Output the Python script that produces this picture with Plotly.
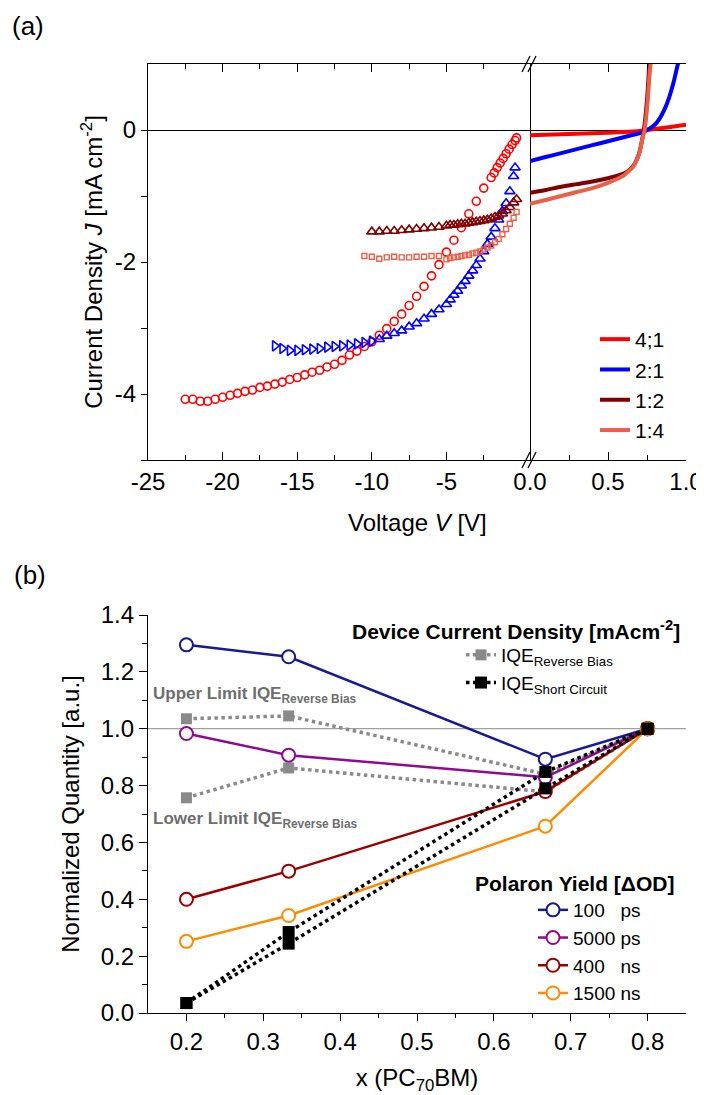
import plotly.graph_objects as go

# ---------------- Panel (a) data ----------------
# reverse-bias markers (left segment)
v_41 = [-22.5, -22, -21.5, -21, -20.5, -20, -19.5, -19, -18.5, -18, -17.5, -17, -16.5, -16, -15.5, -15,
        -14.5, -14, -13.5, -13, -12.5, -12, -11.5, -11, -10.5, -10, -9.5, -9, -8.5, -8, -7.5, -7, -6.5,
        -6, -5.5, -5, -4.5, -4, -3.5, -3, -2.5, -2, -1.8, -1.6, -1.4, -1.2, -1.0, -0.8, -0.6, -0.4, -0.3]
j_41 = [-4.08, -4.08, -4.11, -4.11, -4.08, -4.05, -4.02, -3.99, -3.96, -3.94, -3.90, -3.88, -3.85, -3.82,
        -3.78, -3.75, -3.71, -3.67, -3.64, -3.59, -3.55, -3.49, -3.41, -3.35, -3.28, -3.21, -3.11, -3.01,
        -2.90, -2.79, -2.66, -2.52, -2.37, -2.21, -2.04, -1.85, -1.67, -1.48, -1.27, -1.08, -0.88, -0.72,
        -0.65, -0.57, -0.50, -0.43, -0.36, -0.29, -0.22, -0.16, -0.12]

v_21 = [-16.5, -16, -15.5, -15, -14.5, -14, -13.5, -13, -12.5, -12, -11.5, -11, -10.5, -10, -9.5, -9,
        -8.5, -8, -7.5, -7, -6.5, -6, -5.5, -5, -4.75, -4.5, -4.25, -4, -3.75, -3.5, -3.25, -3, -2.75,
        -2.5, -2.25, -2, -1.75, -1.5, -1.25, -1, -0.75, -0.5, -0.4]
j_21 = [-3.27, -3.31, -3.34, -3.34, -3.33, -3.32, -3.31, -3.29, -3.28, -3.27, -3.26, -3.24, -3.22, -3.20,
        -3.17, -3.12, -3.08, -3.04, -2.98, -2.93, -2.86, -2.79, -2.72, -2.64, -2.57, -2.50, -2.44, -2.36,
        -2.29, -2.21, -2.13, -2.05, -1.95, -1.84, -1.73, -1.62, -1.49, -1.36, -1.23, -1.11, -0.93, -0.70,
        -0.57]

v_12 = [-10, -9.5, -9, -8.5, -8, -7.5, -7, -6.5, -6, -5.5, -5, -4.75, -4.5, -4.25, -4, -3.75, -3.5,
        -3.25, -3, -2.75, -2.5, -2.25, -2, -1.75, -1.5, -1.25, -1, -0.75, -0.5, -0.3]
j_12 = [-1.54, -1.54, -1.53, -1.53, -1.52, -1.51, -1.50, -1.49, -1.48, -1.47, -1.45, -1.44, -1.44, -1.43,
        -1.42, -1.42, -1.41, -1.40, -1.39, -1.38, -1.37, -1.36, -1.34, -1.32, -1.30, -1.27, -1.22, -1.17,
        -1.10, -1.05]

v_14 = [-10.5, -10, -9.5, -9, -8.5, -8, -7.5, -7, -6.5, -6, -5.5, -5, -4.75, -4.5, -4.25, -4, -3.75,
        -3.5, -3.25, -3, -2.75, -2.5, -2.25, -2, -1.75, -1.5, -1.25, -1, -0.75, -0.5, -0.3]
j_14 = [-1.91, -1.92, -1.95, -1.93, -1.92, -1.93, -1.93, -1.92, -1.92, -1.91, -1.91, -1.96, -1.94, -1.93,
        -1.92, -1.91, -1.90, -1.89, -1.87, -1.86, -1.84, -1.81, -1.78, -1.75, -1.70, -1.65, -1.58, -1.50,
        -1.42, -1.33, -1.24]

# forward-bias curves (right segment)
fv_41 = [0, 0.2, 0.4, 0.6, 0.7, 0.75, 0.8, 0.9, 1.0]
fj_41 = [-0.08, -0.065, -0.05, -0.03, -0.015, 0.0, 0.015, 0.045, 0.08]
fv_21 = [0, 0.1, 0.2, 0.3, 0.4, 0.5, 0.6, 0.65, 0.7, 0.75, 0.8, 0.83, 0.86, 0.89, 0.92, 0.94, 0.96]
fj_21 = [-0.47, -0.41, -0.35, -0.29, -0.23, -0.17, -0.11, -0.08, -0.05, 0.0, 0.08, 0.17, 0.30, 0.48,
         0.72, 0.92, 1.12]
fv_12 = [0, 0.1, 0.2, 0.3, 0.4, 0.5, 0.55, 0.6, 0.63, 0.66, 0.68, 0.70, 0.71, 0.72, 0.73, 0.74, 0.75,
         0.76, 0.765]
fj_12 = [-0.95, -0.91, -0.86, -0.82, -0.78, -0.73, -0.70, -0.66, -0.62, -0.55, -0.47, -0.35, -0.25,
         -0.13, 0.0, 0.2, 0.45, 0.8, 1.05]
fv_14 = [0, 0.1, 0.2, 0.3, 0.4, 0.5, 0.55, 0.6, 0.63, 0.66, 0.68, 0.70, 0.71, 0.72, 0.735, 0.745,
         0.755, 0.765, 0.775]
fj_14 = [-1.12, -1.06, -1.00, -0.94, -0.88, -0.80, -0.75, -0.69, -0.63, -0.56, -0.48, -0.36, -0.26,
         -0.14, 0.0, 0.2, 0.45, 0.8, 1.05]

ratio_names = ["4;1", "2:1", "1:2", "1:4"]

# ---------------- Panel (b) data ----------------
x_frac = [0.2, 0.333, 0.667, 0.8]
py_100ps = [1.295, 1.253, 0.893, 1.0]
py_5000ps = [0.983, 0.907, 0.829, 1.0]
py_400ns = [0.40, 0.499, 0.779, 1.0]
py_1500ns = [0.252, 0.343, 0.657, 1.0]
iqe_rb_upper = [1.035, 1.045, 0.84, 1.0]
iqe_rb_lower = [0.757, 0.862, 0.778, 1.0]
iqe_sc_a = [0.035, 0.285, 0.848, 1.0]
iqe_sc_b = [0.035, 0.244, 0.79, 1.0]
polaron_names = ["100\u00a0\u00a0\u00a0ps", "5000 ps", "400\u00a0\u00a0\u00a0ns", "1500 ns"]

x_ticks_a_left = [-25, -20, -15, -10, -5]
x_ticks_a_right = [0, 0.5, 1.0]
y_ticks_a = [-4, -2, 0]
x_ticks_b = [0.2, 0.3, 0.4, 0.5, 0.6, 0.7, 0.8]
y_ticks_b = [0.0, 0.2, 0.4, 0.6, 0.8, 1.0, 1.2, 1.4]

RED = "#FF0000"
BLUE = "#0000FF"
DRED = "#7F0000"
SALMON = "#E8604A"
NAVY = "#1A1A8F"
PURPLE = "#8E0A8E"
MAROON = "#990000"
ORANGE = "#FF8C00"
GRAY = "#8A8A8A"

# the page body has an 8 px margin: the figure is sized to fit the window
OFF = 8
W, H = 704 - OFF, 1095 - OFF


def fx(p):
    return (p - OFF) / W


def fy(p):
    return 1 - (p - OFF) / H


def lab(v):
    # plain hyphen-minus labels as in the original figure
    return ("%g" % v) if v >= 0 else "-%g" % (-v)


FONT = "Liberation Sans, Arial, sans-serif"

fig = go.Figure()

# ----- panel (a) left segment markers -----
fig.add_trace(go.Scatter(x=v_41, y=j_41, xaxis="x", yaxis="y", mode="markers", showlegend=False,
                         marker=dict(symbol="circle-open", size=8, color=RED, line=dict(width=1.6))))
blue_symbols = ["triangle-right-open" if v < -9.7 else "triangle-up-open" for v in v_21]
fig.add_trace(go.Scatter(x=v_21, y=j_21, xaxis="x", yaxis="y", mode="markers", showlegend=False,
                         marker=dict(symbol=blue_symbols, size=9, color=BLUE, line=dict(width=1.6))))
fig.add_trace(go.Scatter(x=v_12, y=j_12, xaxis="x", yaxis="y", mode="markers", showlegend=False,
                         marker=dict(symbol="triangle-up-open", size=9, color=DRED, line=dict(width=1.6))))
fig.add_trace(go.Scatter(x=v_14, y=j_14, xaxis="x", yaxis="y", mode="markers", showlegend=False,
                         marker=dict(symbol="square-open", size=5, color=SALMON, line=dict(width=1.4))))

# ----- panel (a) right segment lines -----
for xs, ys, c, n in [(fv_41, fj_41, RED, ratio_names[0]), (fv_21, fj_21, BLUE, ratio_names[1]),
                     (fv_12, fj_12, DRED, ratio_names[2]), (fv_14, fj_14, SALMON, ratio_names[3])]:
    fig.add_trace(go.Scatter(x=xs, y=ys, xaxis="x2", yaxis="y", mode="lines", name=n, legend="legend",
                             line=dict(color=c, width=4, shape="spline", smoothing=0.6)))

# ----- panel (b) -----
fig.add_trace(go.Scatter(x=x_frac, y=iqe_rb_upper, xaxis="x3", yaxis="y3", mode="lines+markers",
                         name="IQE<sub>Reverse Bias</sub>", legend="legend2",
                         line=dict(color=GRAY, width=3.5, dash="dot"),
                         marker=dict(symbol="square", size=11, color=GRAY)))
fig.add_trace(go.Scatter(x=x_frac, y=iqe_rb_lower, xaxis="x3", yaxis="y3", mode="lines+markers",
                         showlegend=False, line=dict(color=GRAY, width=3.5, dash="dot"),
                         marker=dict(symbol="square", size=11, color=GRAY)))

for ys, c, n in [(py_100ps, NAVY, polaron_names[0]), (py_5000ps, PURPLE, polaron_names[1]),
                 (py_400ns, MAROON, polaron_names[2]), (py_1500ns, ORANGE, polaron_names[3])]:
    fig.add_trace(go.Scatter(x=x_frac, y=ys, xaxis="x3", yaxis="y3", mode="lines+markers", name=n,
                             legend="legend3", line=dict(color=c, width=2.5),
                             marker=dict(symbol="circle", size=13, color="white",
                                         line=dict(color=c, width=2))))

fig.add_trace(go.Scatter(x=x_frac, y=iqe_sc_a, xaxis="x3", yaxis="y3", mode="lines+markers",
                         name="IQE<sub>Short Circuit</sub>", legend="legend2",
                         line=dict(color="black", width=3.5, dash="dot"),
                         marker=dict(symbol="square", size=12, color="black")))
fig.add_trace(go.Scatter(x=x_frac, y=iqe_sc_b, xaxis="x3", yaxis="y3", mode="lines+markers",
                         showlegend=False, line=dict(color="black", width=3.5, dash="dot"),
                         marker=dict(symbol="square", size=12, color="black")))

base = dict(showline=True, linecolor="black", linewidth=1.3, showgrid=False, automargin=False,
            tickcolor="black", tickwidth=1.2)
axis_common = dict(base, zeroline=False, tickfont=dict(size=24, family=FONT, color="black"))
overlay_common = dict(base, zeroline=False)


def minor(vals, where, length):
    return dict(tickvals=vals, ticks=where, ticklen=length, tickcolor="black", tickwidth=1.2)


fig.update_layout(
    width=W, height=H, margin=dict(l=0, r=0, t=0, b=0, autoexpand=False),
    paper_bgcolor="white", plot_bgcolor="white",
    font=dict(family=FONT, color="black", size=20),
    xaxis=dict(domain=[fx(148), fx(530)], range=[-25, 0.6], anchor="y",
               tickvals=x_ticks_a_left, ticktext=[lab(v) for v in x_ticks_a_left],
               ticks="inside", ticklen=8, mirror="ticks",
               minor=minor([-22.5, -17.5, -12.5, -7.5, -2.5], "inside", 5), **axis_common),
    xaxis2=dict(domain=[fx(530), fx(686)], range=[0, 1], anchor="y",
                tickvals=x_ticks_a_right, ticktext=["%.1f" % v for v in x_ticks_a_right],
                ticks="inside", ticklen=8, mirror="ticks",
                minor=minor([0.25, 0.75], "inside", 5), **axis_common),
    yaxis=dict(domain=[fy(460), fy(64)], range=[-5, 1], anchor="x",
               tickvals=y_ticks_a, ticktext=[lab(v) for v in y_ticks_a], ticks="outside", ticklen=6,
               mirror=True, minor=minor([-5, -3, -1], "outside", 6),
               title=dict(text="Current Density <i>J</i> [mA cm<sup>-2</sup>]",
                          font=dict(size=24), standoff=5),
               showline=True, linecolor="black", linewidth=1.3, showgrid=False, automargin=False,
               tickcolor="black", tickwidth=1.2, tickfont=dict(size=24, family=FONT, color="black"),
               zeroline=True, zerolinecolor="black", zerolinewidth=1.3),
    yaxis2=dict(overlaying="y", anchor="x2", side="right", range=[-5, 1],
                tickvals=[-4, -3, -2, -1, 0], ticks="inside", ticklen=7, showticklabels=False,
                **overlay_common),
    xaxis3=dict(domain=[fx(148), fx(686)], range=[0.15, 0.85], anchor="y3",
                tickvals=x_ticks_b, ticktext=["%.1f" % t for t in x_ticks_b], ticks="outside",
                ticklen=7, minor=minor([0.25, 0.35, 0.45, 0.55, 0.65, 0.75], "outside", 4),
                title=dict(text="x (PC<sub>70</sub>BM)", font=dict(size=24), standoff=17),
                **axis_common),
    xaxis4=dict(overlaying="x3", anchor="y3", side="top", range=[0.15, 0.85],
                tickvals=x_ticks_b, ticks="inside", ticklen=7, showticklabels=False,
                minor=minor([0.25, 0.35, 0.45, 0.55, 0.65, 0.75], "inside", 4), **overlay_common),
    yaxis3=dict(domain=[fy(1013), fy(615)], range=[0, 1.4], anchor="x3",
                tickvals=y_ticks_b, ticktext=["%.1f" % t for t in y_ticks_b], ticks="outside",
                ticklen=8, minor=minor([0.1, 0.3, 0.5, 0.7, 0.9, 1.1, 1.3], "outside", 5),
                title=dict(text="Normalized Quantity [a.u.]", font=dict(size=24), standoff=14),
                **axis_common),
    yaxis4=dict(overlaying="y3", anchor="x3", side="right", range=[0, 1.4],
                tickvals=y_ticks_b, ticks="inside", ticklen=8, showticklabels=False,
                minor=minor([0.1, 0.3, 0.5, 0.7, 0.9, 1.1, 1.3], "inside", 5), **overlay_common),
    legend=dict(x=fx(595), y=fy(319), xanchor="left", yanchor="top", bgcolor="rgba(0,0,0,0)",
                font=dict(size=21, family=FONT), tracegroupgap=0, itemwidth=30),
    legend2=dict(x=fx(461), y=fy(636), xanchor="left", yanchor="top", bgcolor="rgba(0,0,0,0)",
                 font=dict(size=19, family=FONT), tracegroupgap=0, itemwidth=30),
    legend3=dict(x=fx(533), y=fy(891), xanchor="left", yanchor="top", bgcolor="rgba(0,0,0,0)",
                 font=dict(size=19, family=FONT), tracegroupgap=0, itemwidth=30),
)

annotations = [
    dict(text="(a)", x=fx(10), y=fy(26), xref="paper", yref="paper", xanchor="left", yanchor="middle",
         showarrow=False, font=dict(size=26)),
    dict(text="(b)", x=fx(12), y=fy(575), xref="paper", yref="paper", xanchor="left", yanchor="middle",
         showarrow=False, font=dict(size=26)),
    dict(text="Voltage <i>V</i> [V]", x=fx(417), y=fy(522), xref="paper", yref="paper",
         xanchor="center", yanchor="middle", showarrow=False, font=dict(size=24)),
    dict(text="<b>Device Current Density [mAcm<sup>-2</sup>]</b>", x=fx(682), y=fy(630), xref="paper",
         yref="paper", xanchor="right", yanchor="middle", showarrow=False,
         font=dict(size=21, family=FONT)),
    dict(text="<b>Polaron Yield [\u0394OD]</b>", x=fx(676), y=fy(883), xref="paper", yref="paper",
         xanchor="right", yanchor="middle", showarrow=False, font=dict(size=21, family=FONT)),
    dict(text="<b>Upper Limit IQE<sub>Reverse Bias</sub></b>", x=fx(151), y=1.12, xref="paper",
         yref="y3", xanchor="left", yanchor="middle", showarrow=False,
         font=dict(size=17, family=FONT, color="#6E6E6E")),
    dict(text="<b>Lower Limit IQE<sub>Reverse Bias</sub></b>", x=fx(151), y=0.68, xref="paper",
         yref="y3", xanchor="left", yanchor="middle", showarrow=False,
         font=dict(size=17, family=FONT, color="#6E6E6E")),
]
fig.update_layout(annotations=annotations)

# reference line at 1.0 in panel (b) and axis-break marks in panel (a)
shapes = [dict(type="line", xref="x3 domain", yref="y3", x0=0, x1=1, y0=1.0, y1=1.0,
               line=dict(color="#A0A0A0", width=1.3), layer="below")]
for yb in (64, 460):
    for dx in (-4, 2):
        shapes.append(dict(type="line", xref="paper", yref="paper",
                           x0=fx(530 + dx - 4), y0=fy(yb + 8), x1=fx(530 + dx + 4), y1=fy(yb - 8),
                           line=dict(color="black", width=1.3)))
fig.update_layout(shapes=shapes)

fig.write_html("out.html")
